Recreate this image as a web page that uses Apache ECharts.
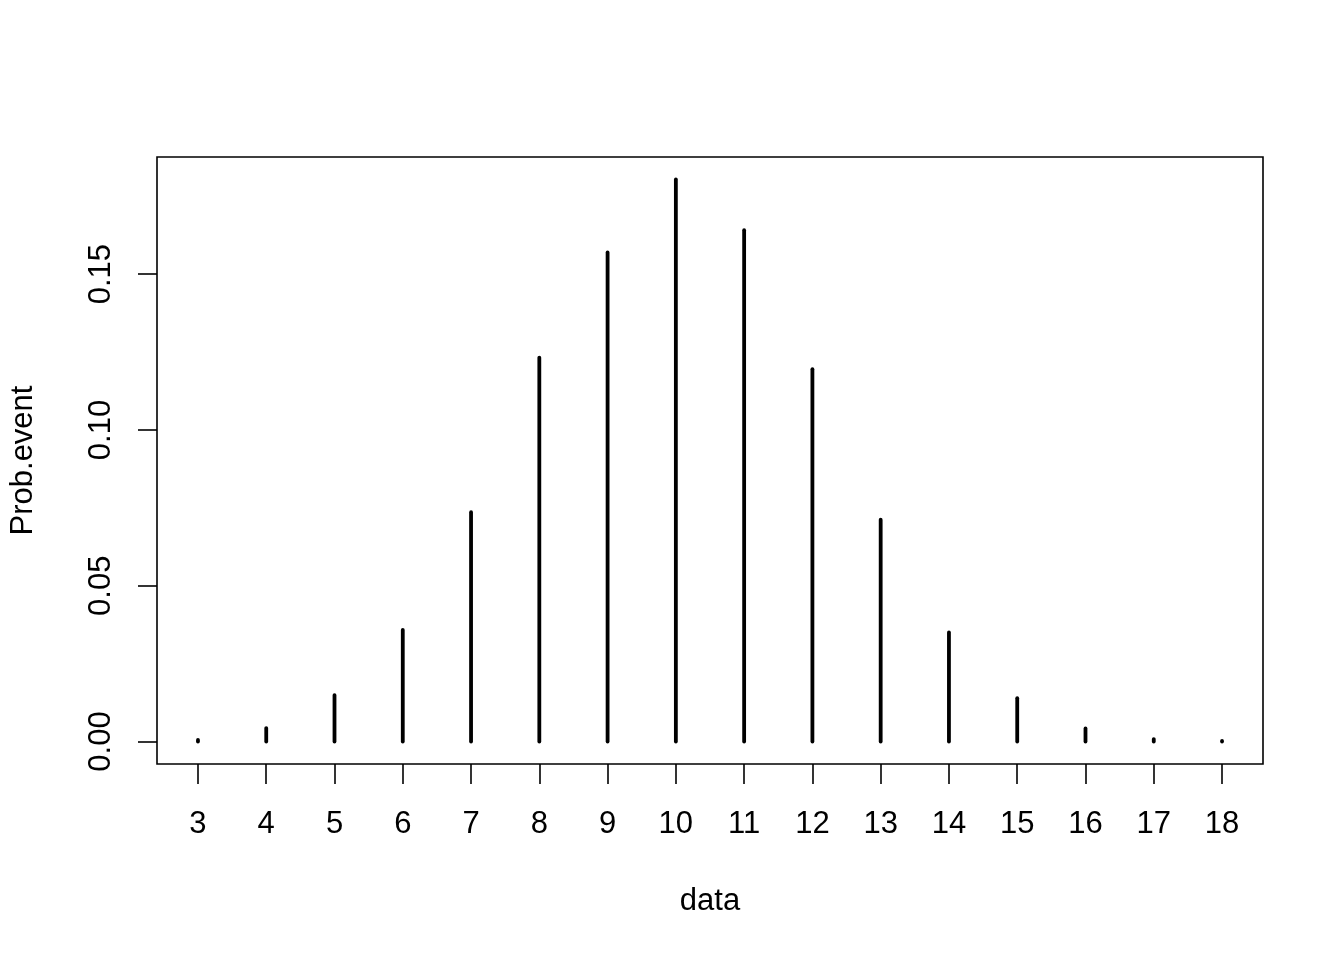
<!DOCTYPE html>
<html>
<head>
<meta charset="utf-8">
<script src="https://cdn.jsdelivr.net/npm/echarts@6/dist/echarts.min.js"></script>
<style>html,body{margin:0;padding:0;background:#fff}#c{width:1344px;height:960px}</style>
</head>
<body>
<div id="c"></div>
<script>
const categories = [3, 4, 5, 6, 7, 8, 9, 10, 11, 12, 13, 14, 15, 16, 17, 18];
const probEvent = [0.0005, 0.0043, 0.0149, 0.0358, 0.0736, 0.1232, 0.1570, 0.1804, 0.1641, 0.1195, 0.0712, 0.0350, 0.0139, 0.0042, 0.0008, 0.0002];
const yTicks = [0, 0.05, 0.10, 0.15];
const yTickLabels = ['0.00', '0.05', '0.10', '0.15'];

const xMinData = Math.min(...categories), xMaxData = Math.max(...categories);
const xPad = (xMaxData - xMinData) * 0.04;
const yMaxData = Math.max(...probEvent);
const yPad = yMaxData * 0.04;

const font = 'Liberation Sans, Arial, Helvetica, sans-serif';
const fs = 31;
const chart = echarts.init(document.getElementById('c'), null, {renderer: 'canvas'});
chart.setOption({
  animation: false,
  backgroundColor: '#fff',
  grid: {left: 157, right: 81, top: 157, bottom: 196, show: true, borderColor: '#000', borderWidth: 1.6, backgroundColor: 'transparent'},
  xAxis: {
    type: 'value',
    min: xMinData - xPad,
    max: xMaxData + xPad,
    axisLine: {show: false, onZero: false},
    splitLine: {show: false},
    axisTick: {show: true, inside: false, length: 20, lineStyle: {color: '#000', width: 1.6}, customValues: categories},
    axisLabel: {show: true, margin: 45, fontSize: fs, color: '#000', fontFamily: font, customValues: categories, formatter: v => String(v)},
    name: 'data',
    nameLocation: 'middle',
    nameGap: 122,
    nameTextStyle: {fontSize: fs, color: '#000', fontFamily: font}
  },
  yAxis: {
    type: 'value',
    min: -yPad,
    max: yMaxData + yPad,
    axisLine: {show: false, onZero: false},
    splitLine: {show: false},
    axisTick: {show: true, inside: false, length: 19, lineStyle: {color: '#000', width: 1.6}, customValues: yTicks},
    axisLabel: {show: true, rotate: 90, margin: 40, fontSize: fs, color: '#000', fontFamily: font, customValues: yTicks,
      formatter: v => { const i = yTicks.findIndex(t => Math.abs(t - v) < 1e-9); return i >= 0 ? yTickLabels[i] : ''; }},
    name: 'Prob.event',
    nameLocation: 'middle',
    nameRotate: 90,
    nameGap: 118,
    nameTextStyle: {fontSize: fs, color: '#000', fontFamily: font}
  },
  series: [{
    type: 'custom',
    data: categories.map((c, i) => [c, probEvent[i]]),
    renderItem: function (params, api) {
      const p0 = api.coord([api.value(0), 0]);
      const p1 = api.coord([api.value(0), api.value(1)]);
      return {
        type: 'line',
        shape: {x1: p0[0], y1: p0[1], x2: p1[0], y2: p1[1]},
        style: {stroke: '#000', lineWidth: 3.8, lineCap: 'round'}
      };
    }
  }]
});
</script>
</body>
</html>
